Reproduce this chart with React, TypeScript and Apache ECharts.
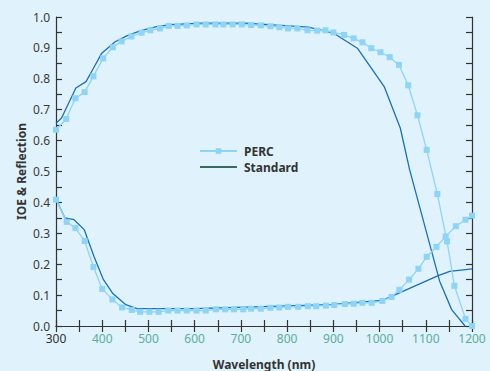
import React, { useEffect, useRef } from "react";
import * as echarts from "echarts";

const percIqeNm = [300, 322, 342, 362, 381, 402, 423, 442, 463, 485, 504, 525, 544, 563, 583, 604, 624, 645, 662, 682, 702, 722, 743, 764, 783, 802, 822, 844, 865, 883, 900, 923, 944, 963, 982, 1002, 1022, 1042, 1062, 1082, 1102, 1125, 1146, 1162, 1186, 1200];
const percIqe = [0.635, 0.67, 0.737, 0.757, 0.808, 0.866, 0.902, 0.921, 0.937, 0.949, 0.957, 0.963, 0.971, 0.971, 0.973, 0.976, 0.976, 0.976, 0.976, 0.976, 0.976, 0.974, 0.973, 0.97, 0.967, 0.963, 0.963, 0.957, 0.956, 0.957, 0.95, 0.942, 0.931, 0.918, 0.899, 0.886, 0.87, 0.845, 0.779, 0.682, 0.57, 0.427, 0.274, 0.13, 0.023, 0.0];

const percReflNm = [300, 323, 342, 362, 381, 400, 422, 443, 464, 482, 502, 522, 543, 563, 583, 604, 624, 646, 666, 685, 705, 722, 743, 764, 783, 802, 824, 845, 863, 884, 902, 925, 944, 963, 983, 1006, 1026, 1043, 1064, 1084, 1102, 1123, 1143, 1165, 1186, 1200];
const percRefl = [0.409, 0.337, 0.317, 0.275, 0.191, 0.12, 0.086, 0.06, 0.052, 0.046, 0.046, 0.046, 0.05, 0.05, 0.05, 0.05, 0.05, 0.054, 0.054, 0.054, 0.054, 0.056, 0.056, 0.059, 0.06, 0.062, 0.062, 0.064, 0.064, 0.066, 0.068, 0.071, 0.072, 0.075, 0.075, 0.081, 0.094, 0.117, 0.15, 0.185, 0.224, 0.256, 0.29, 0.323, 0.344, 0.357];

const stdIqeNm = [300, 312, 343, 365, 381, 399, 428, 453, 482, 518, 547, 612, 709, 846, 900, 952, 1010, 1045, 1065, 1130, 1156, 1185];
const stdIqe = [0.656, 0.673, 0.77, 0.791, 0.834, 0.883, 0.92, 0.939, 0.955, 0.969, 0.975, 0.98, 0.98, 0.967, 0.948, 0.899, 0.775, 0.64, 0.506, 0.145, 0.053, 0.0];

const stdReflNm = [300, 319, 339, 361, 382, 402, 423, 451, 475, 600, 709, 893, 1005, 1026, 1127, 1152, 1200];
const stdRefl = [0.411, 0.35, 0.344, 0.312, 0.226, 0.152, 0.105, 0.069, 0.056, 0.056, 0.061, 0.069, 0.083, 0.096, 0.163, 0.177, 0.185];

const seriesNames = ["PERC", "Standard"];
const xAxisTitle = "Wavelength (nm)";
const yAxisTitle = "IOE & Reflection";

const pair = (xs: number[], ys: number[]) => xs.map((x, i) => [x, ys[i]]);

export default function App() {
  const ref = useRef<HTMLDivElement>(null);
  useEffect(() => {
    if (!ref.current) return;
    const chart = echarts.init(ref.current, null, { renderer: "svg" });
    const font = "'Noto Sans', sans-serif";
    const axisColor = "#333333";
    const perc = "#8dd4f6";
    const std = "#1a70b8";
    const baseAxis = {
      axisLine: { show: true, lineStyle: { color: axisColor, width: 1.2 } },
      axisTick: { show: true, inside: true, length: 6, lineStyle: { color: axisColor, width: 1.2 } },
      minorTick: { show: true, splitNumber: 2, length: 6, lineStyle: { color: axisColor, width: 1.2 } },
      splitLine: { show: false },
      minorSplitLine: { show: false },
    };
    const percLine = {
      type: "line",
      name: seriesNames[0],
      color: perc,
      symbol: "rect",
      symbolSize: 6,
      showSymbol: true,
      lineStyle: { color: perc, width: 1.3 },
      itemStyle: { color: perc },
      z: 3,
    };
    const stdLine = {
      type: "line",
      name: seriesNames[1],
      color: std,
      symbol: "none",
      showSymbol: false,
      lineStyle: { color: std, width: 1.3 },
      z: 2,
    };
    chart.setOption({
      animation: false,
      backgroundColor: "#e0f2fb",
      textStyle: { fontFamily: font },
      grid: { left: 56, right: 18, top: 17, bottom: 45, outerBoundsMode: "none", containLabel: false },
      legend: {
        orient: "vertical",
        left: 194,
        top: 140,
        itemWidth: 37,
        itemHeight: 7,
        itemGap: 4,
        textStyle: { fontFamily: font, fontSize: 12, fontWeight: "bold", color: "#333333", padding: [0, 0, 0, 2] },
        data: [
          { name: seriesNames[0] },
          { name: seriesNames[1], lineStyle: { color: "#3a6a5c" }, itemStyle: { opacity: 0 } },
        ],
      },
      xAxis: [
        {
          ...baseAxis,
          type: "value",
          min: 300,
          max: 1200,
          interval: 100,
          name: xAxisTitle,
          nameLocation: "middle",
          nameGap: 32,
          nameTextStyle: { fontFamily: font, fontSize: 12, fontWeight: "bold", color: "#333333" },
          axisLabel: {
            fontFamily: font,
            fontSize: 12,
            margin: 6,
            formatter: (v: number) => String(v),
            color: (v: any) => (Number(v) === 300 ? "#333333" : "#5aae9c"),
          },
        },
        {
          ...baseAxis,
          type: "value",
          position: "top",
          min: 300,
          max: 1200,
          interval: 100,
          axisLabel: { show: false },
        },
      ],
      yAxis: [
        {
          ...baseAxis,
          type: "value",
          min: 0,
          max: 1,
          interval: 0.1,
          name: yAxisTitle,
          nameLocation: "middle",
          nameGap: 29,
          nameRotate: 90,
          nameMoveOverlap: false,
          nameTextStyle: { fontFamily: font, fontSize: 12, fontWeight: "bold", color: "#333333" },
          axisLabel: {
            fontFamily: font,
            fontSize: 12,
            margin: 6,
            color: "#3a3a3a",
            formatter: (v: number) => v.toFixed(1),
          },
        },
        {
          ...baseAxis,
          type: "value",
          position: "right",
          min: 0,
          max: 1,
          interval: 0.1,
          axisLabel: { show: false },
        },
      ],
      series: [
        { ...stdLine, data: pair(stdIqeNm, stdIqe) },
        { ...stdLine, data: pair(stdReflNm, stdRefl) },
        { ...percLine, data: pair(percIqeNm, percIqe) },
        { ...percLine, data: pair(percReflNm, percRefl) },
      ],
    });
    return () => chart.dispose();
  }, []);
  return (
    <div
      ref={ref}
      style={{ position: "absolute", left: 0, top: 0, width: 490, height: 371 }}
    />
  );
}
